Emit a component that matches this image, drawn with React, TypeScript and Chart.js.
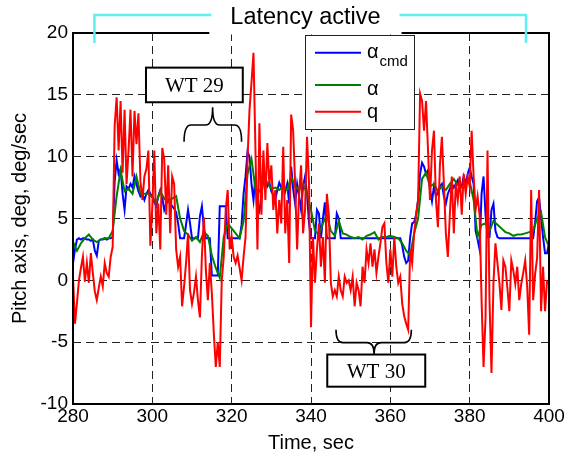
import React, { useEffect, useRef } from "react";
import { Chart, registerables } from "chart.js";

Chart.register(...registerables);

// ---- Data (time axis starts at 280 s) ----
const T_START = 280;
const FINE_STEP = 0.5; // alpha_cmd and q sampled every 0.5 s
const COARSE_STEP = 1; // alpha sampled every 1 s

const alphaCmd = [
  1.4, 2.5, 3.3, 3.4, 3.3, 3.4, 3.4, 3.3, 3.3, 3.2,
  3.3, 2.4, 2.0, 3.2, 3.3, 3.3, 3.4, 3.3, 3.4, 3.4,
  3.5, 8.0, 9.7, 8.6, 9.0, 7.0, 5.7, 7.6, 7.4, 7.8,
  7.5, 8.4, 7.8, 7.2, 6.8, 7.0, 6.5, 7.0, 7.3, 7.0,
  6.8, 6.3, 6.0, 6.8, 7.3, 6.7, 5.7, 6.2, 6.5, 6.2,
  6.0, 5.8, 5.5, 4.6, 3.4, 3.4, 3.4, 4.5, 5.7, 4.6,
  3.4, 3.4, 3.4, 3.4, 5.2, 6.0, 4.2, 3.4, 3.4, 3.4,
  0.4, 0.4, 0.4, 0.4, 6.0, 6.0, 6.0, 6.0, 3.4, 3.4,
  3.4, 3.4, 3.4, 3.4, 3.4, 4.5, 7.0, 8.4, 10.4, 10.0,
  7.8, 6.5, 8.4, 5.1, 5.6, 6.8, 8.4, 8.4, 7.6, 7.9,
  7.2, 6.9, 6.5, 7.3, 7.9, 7.5, 7.8, 7.2, 7.8, 6.2,
  9.2, 7.4, 6.2, 7.8, 6.8, 5.7, 7.6, 8.4, 7.0, 4.6,
  3.4, 3.4, 3.4, 5.7, 5.4, 3.4, 5.0, 6.3, 3.4, 3.4,
  3.4, 3.4, 3.4, 5.4, 5.0, 3.4, 3.4, 3.4, 3.4, 3.4,
  3.4, 3.4, 3.4, 3.4, 3.4, 3.4, 3.4, 3.4, 3.4, 3.4,
  3.4, 3.4, 3.4, 3.4, 3.4, 3.4, 3.4, 3.4, 3.4, 3.4,
  3.4, 3.4, 3.4, 3.4, 3.4, 3.4, 2.8, 1.9, 1.4, 1.6,
  3.5, 4.6, 4.7, 5.3, 6.5, 8.6, 9.5, 9.2, 8.6, 8.9,
  7.3, 6.4, 7.6, 6.8, 7.1, 7.6, 7.8, 6.8, 6.2, 7.0,
  7.4, 7.8, 7.5, 7.8, 8.1, 7.4, 7.6, 8.4, 7.8, 8.6,
  9.1, 8.4, 7.8, 4.0, 3.3, 2.5, 7.0, 8.4, 5.3, 3.5,
  3.5, 5.7, 6.2, 4.0, 3.5, 3.4, 3.4, 3.4, 3.4, 3.4,
  3.4, 3.4, 3.4, 3.4, 3.4, 3.4, 3.4, 3.4, 3.4, 3.4,
  3.4, 3.4, 3.4, 4.7, 6.4, 6.7, 5.0, 3.5, 2.2, 2.2,
  3.0,
];

const alpha = [
  3.1, 2.4, 3.0, 3.4, 3.7, 3.3, 3.1, 3.3, 3.4, 3.4,
  4.0, 6.8, 8.9, 7.2, 7.4, 7.0, 8.4, 7.0, 7.0, 7.0,
  6.7, 6.3, 7.2, 6.6, 6.4, 6.6, 6.8, 5.0, 4.0, 3.7,
  3.2, 3.5, 3.1, 3.9, 3.6, 2.0, 1.0, 0.2, 3.5, 4.6,
  4.2, 3.8, 3.4, 4.8, 8.6, 9.8, 7.4, 7.2, 7.8, 7.9,
  7.4, 7.5, 7.3, 7.6, 7.3, 8.4, 7.6, 7.3, 7.8, 7.0,
  5.7, 4.0, 3.7, 4.6, 5.3, 4.0, 3.6, 4.8, 3.8, 3.7,
  3.5, 3.4, 3.5, 3.3, 3.6, 3.7, 3.9, 3.3, 3.5, 3.5,
  3.6, 3.5, 3.4, 3.0, 2.4, 2.0, 3.8, 5.0, 8.2, 8.7,
  7.6, 7.8, 7.2, 7.6, 7.3, 7.8, 8.2, 7.7, 7.6, 7.8,
  8.0, 6.5, 3.5, 4.5, 4.6, 4.0, 4.8, 4.5, 4.2, 3.9,
  3.8, 3.6, 3.7, 3.7, 3.8, 3.9, 4.0, 5.0, 5.5, 3.5,
  2.7,
];

const q = [
  0.2, -3.5, -1.8, 0.0, 1.0, 1.9, -0.1, 1.4, -0.2, 2.2,
  0.6, -0.9, -1.6, -0.6, 0.3, -0.5, 1.4, 0.6, 0.3, 1.9,
  2.7, 12.5, 14.8, 10.5, 14.5, 8.7, 13.8, 7.8, 10.5, 13.8,
  8.4, 13.7, 11.0, 13.5, 8.0, 6.5, 8.4, 9.0, 10.5, 2.8,
  6.0, 10.5, 3.8, 6.2, 2.5, 10.7, 9.8, 5.3, 9.3, 3.8,
  8.4, 7.8, 2.5, 1.1, 1.9, -2.1, -0.5, 1.4, 3.8, -0.8,
  -1.9, -1.0, 0.3, -1.6, -3.0, 2.0, 5.1, 0.8, -1.6, 1.4,
  -1.0, -4.3, -7.0, -5.0, -7.0, 0.0, 1.9, 5.7, 7.3, 2.5,
  3.5, 1.9, 1.4, 2.0, 1.0, 0.0, 1.9, 3.5, 9.8, 13.8,
  16.0, 18.4, 10.5, 2.5, 12.7, 5.3, 10.5, 6.5, 11.1, 7.8,
  9.3, 5.7, 7.3, 3.8, 6.5, 4.6, 10.8, 3.8, 6.5, 1.4,
  13.4, 12.1, 7.8, 2.5, 7.0, 9.3, 3.8, 5.7, 11.6, 7.8,
  -3.8, 3.5, -0.2, 2.5, 4.6, 1.1, 3.5, -0.2, 7.0, 5.3,
  -0.2, -1.3, -0.8, -1.3, 0.3, -0.8, -1.3, 0.3, -0.2, 0.0,
  -0.8, 0.3, -2.1, -0.2, -0.8, -2.1, 1.1, -0.2, 2.5, 1.4,
  3.0, 1.1, 2.5, 0.6, 1.9, 3.0, 4.3, 4.6, 1.4, -0.2,
  2.5, 0.3, 3.5, 1.1, -0.2, 0.3, -1.9, -2.9, -3.5, -4.0,
  2.5, 1.4, 3.8, 5.3, 6.5, 15.1, 14.5, 12.1, 14.5, 10.5,
  6.5, 10.5, 12.1, 6.5, 4.3, 9.3, 11.6, 7.8, 3.8, 1.9,
  5.3, 8.4, 3.8, 7.8, 6.5, 8.4, 5.3, 8.6, 7.0, 8.4,
  7.6, 12.1, 8.4, 5.7, 6.8, 5.3, -1.6, -7.0, -3.0, 10.5,
  -1.6, -7.5, -0.2, 3.0, 1.4, -0.2, -2.4, 1.6, 1.1, -0.6,
  -2.5, 1.6, 0.8, -0.3, 1.1, -1.6, -0.3, 0.6, 1.6, -0.5,
  -4.4, 7.3, -1.6, 0.5, 1.8, 7.3, -2.5, 1.1, -2.5, -0.1,
  -0.2,
];

const xTicks = [280, 300, 320, 340, 360, 380, 400];
const yTicks = [-10, -5, 0, 5, 10, 15, 20];
const xTitle = "Time, sec";
const yTitle = "Pitch axis, deg, deg/sec";

// ---- Annotations (data coordinates) ----
const latencyLabel = "Latency active";
const latencyRange = [285.4, 394.2];
const latencyLabelAt = 338.6;

const wt29Label = "WT 29";
const wt29Box = [298.4, 322.8, 17.2, 14.4]; // tMin, tMax, vTop, vBottom
const wt29Brace = [308.0, 322.5, 315.2, 11.2, 12.56, 14.0]; // tLeft, tRight, tTip, vEnds, vBar, vTip

const wt30Label = "WT 30";
const wt30Box = [344.1, 368.8, -6.0, -8.6];
const wt30Brace = [346.3, 365.3, 355.9, -4.0, -5.04, -5.95];

const COLORS = { cmd: "#0000ff", alpha: "#008000", q: "#ff0000", cyan: "#5cf0f0" };
const SANS = '"Liberation Sans", Arial, sans-serif';
const SERIF = '"Liberation Serif", "Times New Roman", serif';

const toPoints = (vals: number[], step: number) =>
  vals.map((v, i) => ({ x: T_START + i * step, y: v }));

function drawBrace(ctx: CanvasRenderingContext2D, x1: number, x2: number, xm: number, yEnd: number, yBar: number, yTip: number) {
  const r = 7;
  ctx.beginPath();
  ctx.moveTo(x1, yEnd);
  ctx.quadraticCurveTo(x1, yBar, x1 + r, yBar);
  ctx.lineTo(xm - r, yBar);
  ctx.quadraticCurveTo(xm, yBar, xm, yTip);
  ctx.quadraticCurveTo(xm, yBar, xm + r, yBar);
  ctx.lineTo(x2 - r, yBar);
  ctx.quadraticCurveTo(x2, yBar, x2, yEnd);
  ctx.stroke();
}

const overlayPlugin = {
  id: "overlay",
  afterDraw(chart: any) {
    const { ctx, chartArea: a, scales } = chart;
    const xs = scales.x;
    const ys = scales.y;
    const px = (t: number) => xs.getPixelForValue(t);
    const py = (v: number) => ys.getPixelForValue(v);
    ctx.save();

    // axes box
    ctx.strokeStyle = "#000";
    ctx.lineWidth = 2;
    ctx.setLineDash([]);
    ctx.strokeRect(a.left, a.top, a.right - a.left, a.bottom - a.top);

    // Latency active label with white backing
    ctx.font = `23.5px ${SANS}`;
    const lw = ctx.measureText(latencyLabel).width;
    const lc = px(latencyLabelAt);
    const boxL = lc - lw / 2 - 21;
    const boxR = lc + lw / 2 + 21;
    ctx.fillStyle = "#fff";
    ctx.fillRect(boxL, 0, boxR - boxL, a.top + 1.5);
    ctx.fillStyle = "#000";
    ctx.textAlign = "center";
    ctx.textBaseline = "alphabetic";
    ctx.fillText(latencyLabel, lc, a.top - 9);

    // cyan bracket
    ctx.strokeStyle = COLORS.cyan;
    ctx.lineWidth = 2.5;
    const by = a.top - 18;
    const bl = px(latencyRange[0]);
    const br = px(latencyRange[1]);
    ctx.beginPath();
    ctx.moveTo(bl, a.top + 10);
    ctx.lineTo(bl, by);
    ctx.lineTo(boxL + 2, by);
    ctx.moveTo(boxR - 2, by);
    ctx.lineTo(br, by);
    ctx.lineTo(br, a.top + 10);
    ctx.stroke();

    // WT boxes and braces
    const drawWT = (label: string, box: number[], brace: number[]) => {
      const x0 = px(box[0]);
      const x1 = px(box[1]);
      const y0 = py(box[2]);
      const y1 = py(box[3]);
      ctx.fillStyle = "#fff";
      ctx.fillRect(x0, y0, x1 - x0, y1 - y0);
      ctx.strokeStyle = "#000";
      ctx.lineWidth = 2;
      ctx.strokeRect(x0, y0, x1 - x0, y1 - y0);
      ctx.fillStyle = "#000";
      ctx.font = `21px ${SERIF}`;
      ctx.textAlign = "center";
      ctx.textBaseline = "alphabetic";
      ctx.fillText(label, (x0 + x1) / 2, (y0 + y1) / 2 + 7);
      ctx.lineWidth = 1.6;
      drawBrace(ctx, px(brace[0]), px(brace[1]), px(brace[2]), py(brace[3]), py(brace[4]), py(brace[5]));
    };
    drawWT(wt29Label, wt29Box, wt29Brace);
    drawWT(wt30Label, wt30Box, wt30Brace);

    // legend
    const lx = a.left + 232;
    const ly = a.top + 2;
    const lW = 109;
    const lH = 94;
    ctx.fillStyle = "#fff";
    ctx.fillRect(lx, ly, lW, lH);
    ctx.strokeStyle = "#222";
    ctx.lineWidth = 1;
    ctx.strokeRect(lx + 0.5, ly + 0.5, lW, lH);
    const entries = [
      { color: COLORS.cmd, lineY: 17.7, text: "\u03b1", sub: "cmd", base: 22.5 },
      { color: COLORS.alpha, lineY: 50, text: "\u03b1", sub: "", base: 60 },
      { color: COLORS.q, lineY: 76.7, text: "q", sub: "", base: 82.5 },
    ];
    ctx.textAlign = "left";
    ctx.textBaseline = "alphabetic";
    for (const e of entries) {
      ctx.strokeStyle = e.color;
      ctx.lineWidth = 2;
      ctx.beginPath();
      ctx.moveTo(lx + 10, ly + e.lineY);
      ctx.lineTo(lx + 56, ly + e.lineY);
      ctx.stroke();
      ctx.fillStyle = "#000";
      ctx.font = `20px ${SANS}`;
      ctx.fillText(e.text, lx + 62, ly + e.base);
      if (e.sub) {
        const w = ctx.measureText(e.text).width;
        ctx.font = `15px ${SANS}`;
        ctx.fillText(e.sub, lx + 62 + w + 1, ly + e.base + 8);
      }
    }
    ctx.restore();
  },
};

export default function App() {
  const ref = useRef<HTMLCanvasElement | null>(null);

  useEffect(() => {
    if (!ref.current) return;
    const tickFont = { family: SANS, size: 19 };
    const titleFont = { family: SANS, size: 20 };
    const chart = new Chart(ref.current, {
      type: "line",
      data: {
        datasets: [
          { label: "q", data: toPoints(q, FINE_STEP), borderColor: COLORS.q, borderWidth: 2 },
          { label: "alpha", data: toPoints(alpha, COARSE_STEP), borderColor: COLORS.alpha, borderWidth: 2 },
          { label: "alpha_cmd", data: toPoints(alphaCmd, FINE_STEP), borderColor: COLORS.cmd, borderWidth: 2 },
        ],
      },
      options: {
        animation: false,
        responsive: false,
        devicePixelRatio: 1,
        layout: { padding: { left: 0, right: 20, top: 33, bottom: 0 } },
        elements: { point: { radius: 0 }, line: { tension: 0, fill: false } },
        plugins: { legend: { display: false }, tooltip: { enabled: false } },
        scales: {
          x: {
            type: "linear",
            min: 280,
            max: 400,
            afterBuildTicks: (s: any) => {
              s.ticks = xTicks.map((v) => ({ value: v }));
            },
            afterFit: (s: any) => {
              s.height = 52;
              s.paddingLeft = 0;
              s.paddingRight = 0;
            },
            grid: { color: "#222", lineWidth: 1, drawTicks: false },
            border: { display: false, dash: [8, 5] },
            ticks: { color: "#000", font: tickFont, padding: 1, maxRotation: 0, autoSkip: false },
            title: { display: true, text: xTitle, color: "#000", font: titleFont, padding: { top: 0, bottom: 1 } },
          },
          y: {
            type: "linear",
            min: -10,
            max: 20,
            afterBuildTicks: (s: any) => {
              s.ticks = yTicks.map((v) => ({ value: v }));
            },
            afterFit: (s: any) => {
              s.width = 73;
              s.paddingTop = 0;
              s.paddingBottom = 0;
            },
            grid: { color: "#222", lineWidth: 1, drawTicks: false },
            border: { display: false, dash: [8, 5] },
            ticks: { color: "#000", font: tickFont, padding: 5, autoSkip: false },
            title: { display: true, text: yTitle, color: "#000", font: titleFont, padding: { top: 8, bottom: 0 } },
          },
        },
      },
      plugins: [overlayPlugin],
    } as any);
    return () => chart.destroy();
  }, []);

  return (
    <div style={{ position: "absolute", left: 0, top: 0, width: 569, height: 456, background: "#fff" }}>
      <canvas ref={ref} width={569} height={456} style={{ display: "block", width: 569, height: 456 }} />
    </div>
  );
}
